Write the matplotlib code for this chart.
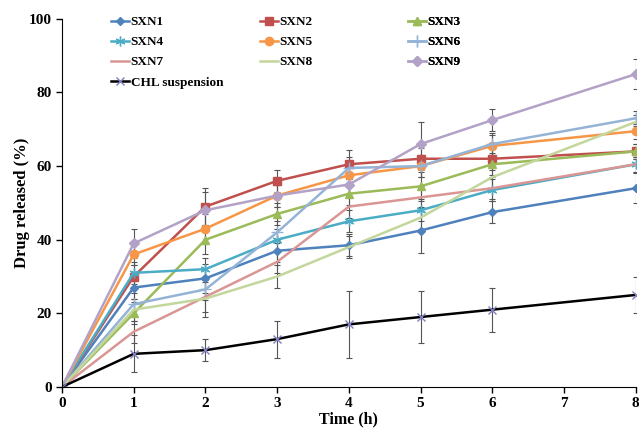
import numpy as np
import matplotlib.pyplot as plt

plt.rcParams['font.family'] = ['Liberation Serif', 'DejaVu Serif']
plt.rcParams['font.weight'] = 'bold'

time = [0, 1, 2, 3, 4, 5, 6, 8]
names = ['SXN1', 'SXN2', 'SXN3', 'SXN4', 'SXN5', 'SXN6', 'SXN7', 'SXN8',
         'SXN9', 'CHL suspension']
sxn1 = [0, 27, 29.5, 37, 38.5, 42.5, 47.5, 54]
sxn2 = [0, 30, 49, 56, 60.5, 62, 62, 64]
sxn3 = [0, 20, 40, 47, 52.5, 54.5, 60.5, 64]
sxn4 = [0, 31, 32, 40, 45, 48, 53.5, 60.5]
sxn5 = [0, 36, 43, 52, 57.5, 60, 65.5, 69.5]
sxn6 = [0, 22.5, 26.5, 42, 59.5, 60, 66, 73]
sxn7 = [0, 15, 24.5, 34, 49, 51.5, 54, 60.5]
sxn8 = [0, 21, 24, 30, 38, 46, 57, 72]
sxn9 = [0, 39, 48, 52, 55, 66, 72.5, 85]
chl = [0, 9, 10, 13, 17, 19, 21, 25]

err1 = [0, 3, 4, 3, 3, 6, 3, 4]
err2 = [0, 3, 5, 3, 4, 3, 3, 2]
err3 = [0, 3, 4, 3, 3, 4, 3, 2]
err4 = [0, 3, 3, 3, 3, 3, 3, 2]
err5 = [0, 3, 4, 3, 3, 3, 3, 2]
err6 = [0, 3, 3, 3, 3, 3, 3, 2]
err7 = [0, 3, 4, 3, 3, 3, 3, 2]
err8 = [0, 3, 5, 3, 3, 3, 3, 2]
err9 = [0, 4, 5, 3, 3, 6, 3, 4]
errc = [0, 5, 3, 5, 9, 7, 6, 5]

series = [sxn1, sxn2, sxn3, sxn4, sxn5, sxn6, sxn7, sxn8, sxn9, chl]
errors = [err1, err2, err3, err4, err5, err6, err7, err8, err9, errc]
colors = ['#4F81BD', '#C0504D', '#9BBB59', '#4BACC6', '#F79646', '#95B3D7',
          '#D99694', '#C3D69B', '#B3A2C7', '#000000']
markers = ['D', 's', '^', (6, 2, 0), 'o', '+', None, None, 'D', 'x']
msizes = [4, 6, 6, 7, 6, 8, 0, 0, 5, 6]

fig, ax = plt.subplots(figsize=(6.39, 4.29), dpi=100)
fig.subplots_adjust(left=0.097, right=0.995, bottom=0.098, top=0.956)

handles = []
for y, e, c, m, ms, n in zip(series, errors, colors, markers, msizes, names):
    ax.errorbar(time, y, yerr=e, fmt='none', ecolor='#555555', elinewidth=0.8,
                capsize=2.5, capthick=0.8, zorder=1)
    mec = '#7F7FBF' if n == 'CHL suspension' else c
    h, = ax.plot(time, y, color=c, lw=1.8, marker=m, markersize=ms,
                 markerfacecolor=c, markeredgecolor=mec, markeredgewidth=1,
                 label=n, zorder=2)
    handles.append(h)

# one legend per column, equal column widths like the original
columns = [[0, 3, 6, 9], [1, 4, 7], [2, 5, 8]]
col_x = [0.0854, 0.345, 0.603]
for idx, cx in zip(columns, col_x):
    leg = ax.legend([handles[i] for i in idx], [names[i] for i in idx],
                    loc='upper left', bbox_to_anchor=(cx, 1.008),
                    frameon=False, borderpad=0, borderaxespad=0,
                    handlelength=1.4, handletextpad=0.1, labelspacing=0.6,
                    prop={'weight': 'bold', 'size': 9.5})
    ax.add_artist(leg)

ax.set_xlim(0, 8)
ax.set_ylim(0, 100)
ax.set_xticks(range(0, 9))
ax.set_yticks(range(0, 101, 20))
ax.spines['top'].set_visible(False)
ax.spines['right'].set_visible(False)
ax.tick_params(direction='out', labelsize=11, width=1, length=4)
for lab in ax.get_xticklabels() + ax.get_yticklabels():
    lab.set_fontweight('bold')
ax.set_xlabel('Time (h)', fontsize=11.5, fontweight='bold', labelpad=1)
ax.set_ylabel('Drug released (%)', fontsize=12, fontweight='bold', labelpad=-1)

fig.savefig('out.png', dpi=100)
